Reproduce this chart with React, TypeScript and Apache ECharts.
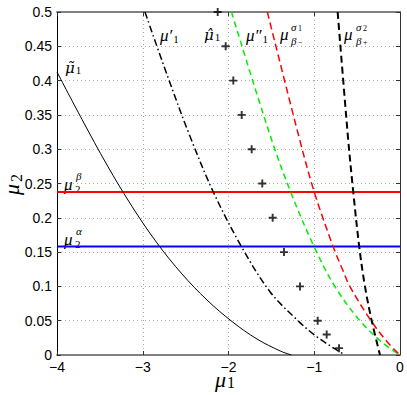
import React, { useEffect, useRef } from "react";
import * as echarts from "echarts";

// ---- data ----
const xTickValues = [-4, -3, -2, -1, 0];
const yTickStep = 0.05;

const muTilde1: number[][] = [
  [-4, 0.4125], [-3.708, 0.3433], [-3.417, 0.277], [-3.125, 0.2165], [-2.834, 0.1633],
  [-2.542, 0.1181], [-2.251, 0.0802], [-1.959, 0.0488], [-1.668, 0.0233], [-1.39, 0.0055], [-1.265, 0],
];
const muPrime1: number[][] = [
  [-2.974, 0.5], [-2.717, 0.4086], [-2.455, 0.3207], [-2.177, 0.2376], [-1.846, 0.1574],
  [-1.516, 0.0923], [-1.19, 0.05], [-0.968, 0.0264], [-0.738, 0.0073], [-0.641, 0],
];
const muDoublePrime1: number[][] = [
  [-1.965, 0.5], [-1.516, 0.3207], [-1.275, 0.2376], [-1.0, 0.1574], [-0.758, 0.0996],
  [-0.467, 0.05], [-0.195, 0.0171], [0, 0],
];
const muSigma1: number[][] = [
  [-1.547, 0.5], [-1.184, 0.3207], [-1.0, 0.2376], [-0.778, 0.1574], [-0.668, 0.1239],
  [-0.583, 0.0996], [-0.338, 0.05], [-0.136, 0.0171], [0, 0],
];
const muSigma2: number[][] = [
  [-0.727, 0.5], [-0.609, 0.3207], [-0.545, 0.2376], [-0.475, 0.1574], [-0.408, 0.0996],
  [-0.33, 0.05], [-0.233, 0],
];
const muHatX = [-2.126, -2.033, -1.944, -1.846, -1.73, -1.606, -1.485, -1.353, -1.166, -0.96, -0.855, -0.711];
const muHatY = [0.5, 0.45, 0.4, 0.35, 0.3, 0.25, 0.2, 0.15, 0.1, 0.05, 0.03, 0.01];
const mu2Beta = 0.2375;
const mu2Alpha = 0.158;

const W = 407;
const H = 395;
const SERIF = '"Liberation Serif", "DejaVu Serif", serif';
const DJV = '"DejaVu Serif", serif';
const SANS = '"Liberation Sans", Arial, sans-serif';

function txt(text: string, x: number, y: number, size: number, italic = false, family = SERIF) {
  return {
    type: "text",
    x,
    y,
    silent: true,
    style: {
      text,
      font: `${italic ? "italic " : ""}${size}px ${family}`,
      fill: "#000",
      textAlign: "left",
      textVerticalAlign: "top",
    },
  };
}

// symbol with a lowered subscript, as one text
function sub(base: string, index: string, x: number, y: number, size: number, subSize: number, family = SERIF) {
  return {
    type: "text",
    x,
    y,
    silent: true,
    style: {
      text: `{m|${base}}{s|${index}}`,
      fill: "#000",
      textAlign: "left",
      textVerticalAlign: "top",
      rich: {
        m: { fontFamily: family, fontStyle: "italic", fontSize: size, lineHeight: size, verticalAlign: "bottom", fill: "#000" },
        s: {
          fontFamily: SERIF,
          fontSize: subSize,
          lineHeight: Math.round(size * 0.45),
          verticalAlign: "bottom",
          padding: [0, 0, 0, 1],
          fill: "#000",
        },
      },
    },
  };
}

function fmtMinus(v: number) {
  return String(v).replace("-", "\u2212");
}

export default function App() {
  const ref = useRef<HTMLDivElement>(null);
  useEffect(() => {
    const chart = echarts.init(ref.current!, null, { renderer: "svg" });
    const plus =
      "path://M-1.2,-5L1.2,-5L1.2,-1.2L5,-1.2L5,1.2L1.2,1.2L1.2,5L-1.2,5L-1.2,1.2L-5,1.2L-5,-1.2L-1.2,-1.2Z";
    const lineBase = { type: "line", symbol: "none", smooth: 0.35, silent: true, z: 3 };
    const option: any = {
      animation: false,
      backgroundColor: "#fff",
      grid: { left: 57, right: 7, top: 12, bottom: 40, containLabel: false },
      xAxis: [
        {
          type: "value",
          min: -4,
          max: 0,
          interval: 1,
          position: "bottom",
          axisLine: { show: true, onZero: false, lineStyle: { color: "#808080", width: 2 } },
          axisTick: { show: true, inside: true, length: 4, lineStyle: { color: "#333" } },
          axisLabel: {
            color: "#000",
            fontSize: 14,
            fontFamily: SANS,
            margin: 5,
            formatter: (v: number) => (xTickValues.includes(v) ? fmtMinus(v) : ""),
          },
          splitLine: { show: true, lineStyle: { color: "#aaa", type: [1, 3], width: 1 } },
        },
        {
          type: "value",
          min: -4,
          max: 0,
          interval: 1,
          position: "top",
          axisLine: { show: true, onZero: false, lineStyle: { color: "#808080", width: 2 } },
          axisTick: { show: true, inside: true, length: 4, lineStyle: { color: "#333" } },
          axisLabel: { show: false },
          splitLine: { show: false },
        },
      ],
      yAxis: [
        {
          type: "value",
          min: 0,
          max: 0.5,
          interval: yTickStep,
          position: "left",
          axisLine: { show: true, onZero: false, lineStyle: { color: "#000", width: 1 } },
          axisTick: { show: true, inside: true, length: 4, lineStyle: { color: "#333" } },
          axisLabel: {
            color: "#000",
            fontSize: 14,
            fontFamily: SANS,
            margin: 5,
            formatter: (v: number) => String(+v.toFixed(2)),
          },
          splitLine: { show: true, lineStyle: { color: "#aaa", type: [1, 3], width: 1 } },
        },
        {
          type: "value",
          min: 0,
          max: 0.5,
          interval: yTickStep,
          position: "right",
          axisLine: { show: true, onZero: false, lineStyle: { color: "#333", width: 1 } },
          axisTick: { show: true, inside: true, length: 4, lineStyle: { color: "#333" } },
          axisLabel: { show: false },
          splitLine: { show: false },
        },
      ],
      series: [
        { ...lineBase, name: "mu2beta", smooth: false, data: [[-4, mu2Beta], [0, mu2Beta]], lineStyle: { color: "#ff0000", width: 2 } },
        { ...lineBase, name: "mu2alpha", smooth: false, data: [[-4, mu2Alpha], [0, mu2Alpha]], lineStyle: { color: "#0000ff", width: 2 } },
        { ...lineBase, name: "muTilde1", data: muTilde1, lineStyle: { color: "#000", width: 1 } },
        { ...lineBase, name: "muPrime1", data: muPrime1, lineStyle: { color: "#000", width: 1.5, type: [7, 3, 1.5, 3] } },
        { ...lineBase, name: "muDoublePrime1", data: muDoublePrime1, lineStyle: { color: "#00ee00", width: 1.5, type: [6, 4] } },
        { ...lineBase, name: "muSigma1", data: muSigma1, lineStyle: { color: "#ff0000", width: 1.5, type: [7, 4] } },
        { ...lineBase, name: "muSigma2", data: muSigma2, lineStyle: { color: "#000", width: 2, type: [7, 4] } },
        {
          type: "scatter",
          name: "muHat1",
          symbol: plus,
          symbolSize: 8,
          silent: true,
          z: 4,
          itemStyle: { color: "#000" },
          data: muHatX.map((x, i) => [x, muHatY[i]]),
        },
      ],
      graphic: [
        // curve labels
        sub("μ\u0303", "1", 65, 60, 15, 11, DJV),
        sub("μ′", "1", 160, 27, 17, 11),
        sub("μ\u0302", "1", 204, 27, 15, 11, DJV),
        sub("μ″", "1", 246, 27, 17, 11),
        txt("μ", 280, 26, 17, true), txt("σ", 291, 21, 11, true), txt("1", 298, 24, 8),
        txt("β", 291, 35, 11, true), txt("−", 298, 38, 8),
        txt("μ", 344, 26, 17, true), txt("σ", 356, 21, 11, true), txt("2", 363, 24, 8),
        txt("β", 356, 35, 11, true), txt("+", 363, 38, 8),
        txt("μ", 64, 176, 17, true), txt("β", 76, 170, 11, true), txt("2", 75, 183, 11),
        txt("μ", 64, 231, 17, true), txt("α", 76, 225, 11, true), txt("2", 75, 238, 11),
        // axis titles
        sub("μ", "1", 215, 368, 22, 16),
        {
          type: "group",
          x: 0,
          y: 195,
          rotation: Math.PI / 2,
          children: [txt("μ", 0, 0, 22, true), txt("2", 13, 8, 16)],
        },
      ],
    };
    chart.setOption(option);
    return () => chart.dispose();
  }, []);
  return (
    <div
      ref={ref}
      style={{ position: "fixed", left: 0, top: 0, width: W, height: H, background: "#fff" }}
    />
  );
}
